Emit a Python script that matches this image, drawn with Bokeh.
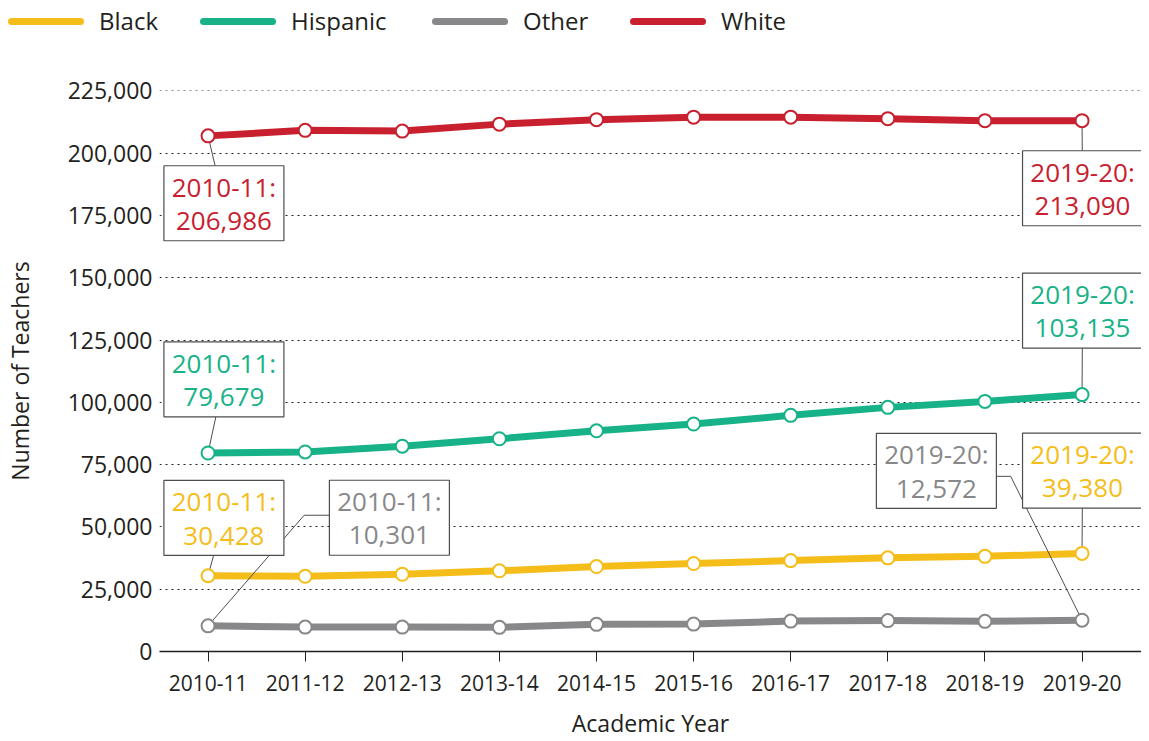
from bokeh.plotting import figure
from bokeh.models import Range1d, FixedTicker, NumeralTickFormatter, SingleIntervalTicker, Div
from bokeh.layouts import column
from bokeh.embed import file_html
from bokeh.resources import INLINE
from bokeh.core.properties import value

# ---------------- data ----------------
years = ["2010-11", "2011-12", "2012-13", "2013-14", "2014-15",
         "2015-16", "2016-17", "2017-18", "2018-19", "2019-20"]
black = [30428, 30200, 31000, 32400, 34100, 35300, 36500, 37600, 38200, 39380]
hispanic = [79679, 80100, 82400, 85400, 88600, 91300, 94800, 98000, 100400, 103135]
other = [10301, 9800, 9800, 9700, 10900, 11000, 12200, 12400, 12100, 12572]
white = [206986, 209200, 208900, 211700, 213500, 214500, 214500, 213900, 213100, 213090]

series_names = ["Black", "Hispanic", "Other", "White"]
series_values = [black, hispanic, other, white]
series_colors = ["#F5BD1A", "#17B287", "#88888B", "#C8202F"]

# ---------------- layout constants ----------------
W = 1141
LEG_H = 52
H = 741 - LEG_H
LEFT, RIGHT, TOP, BOTTOM = 150, 0, 38, 89
PX_PER_CAT = 98.0           # pixel width of one category
frame_h = H - TOP - BOTTOM
frame_w = W - LEFT - RIGHT
x0 = -49.0 / PX_PER_CAT
x1 = x0 + frame_w / PX_PER_CAT
y1 = 225200
PX_PER_UNIT = frame_h / y1  # pixels per teacher

SANS = "Open Sans"
DARK = "#231F20"
BOX = "#4D4D4D"

# ---------------- legend strip (HTML) ----------------
leg_line_x = [8, 200, 432, 630]
leg_line_len = 76
parts = []
for name, col, lx in zip(series_names, series_colors, leg_line_x):
    parts.append(
        f'<span style="position:absolute;left:{lx}px;top:18px;width:{leg_line_len}px;height:7px;'
        f'border-radius:4px;background:{col};"></span>'
        f'<span style="position:absolute;left:{lx + leg_line_len + 15}px;top:6px;line-height:30px;'
        f'white-space:nowrap;">{name}</span>'
    )
leg_html = (f'<div style="position:relative;width:{W}px;height:{LEG_H}px;font-family:\'Open Sans\';'
            f'font-size:24px;color:{DARK};">' + "".join(parts) + '</div>')
leg = Div(text=leg_html, width=W, height=LEG_H, margin=0)

# ---------------- main plot ----------------
p = figure(width=W, height=H, output_backend="svg", toolbar_location=None,
           x_range=Range1d(x0, x1), y_range=Range1d(0, y1),
           min_border_left=LEFT, min_border_right=RIGHT,
           min_border_top=TOP, min_border_bottom=BOTTOM, margin=0)
p.outline_line_color = None
p.background_fill_color = "white"

idx = list(range(len(years)))
p.xaxis.ticker = FixedTicker(ticks=idx)
p.xaxis.major_label_overrides = {i: y for i, y in enumerate(years)}
p.xaxis.axis_line_color = DARK
p.xaxis.axis_line_width = 1.5
p.xaxis.major_tick_line_color = DARK
p.xaxis.major_tick_line_width = 1
p.xaxis.major_tick_in = 0
p.xaxis.major_tick_out = 10
p.xaxis.minor_tick_line_color = None
p.xaxis.major_label_text_font = SANS
p.xaxis.major_label_text_font_size = "21px"
p.xaxis.major_label_text_color = DARK
p.xaxis.major_label_standoff = 13
p.xaxis.axis_label = "Academic Year"
p.xaxis.axis_label_text_font = SANS
p.xaxis.axis_label_text_font_size = "23px"
p.xaxis.axis_label_text_font_style = "normal"
p.xaxis.axis_label_text_color = DARK
p.xaxis.axis_label_standoff = 13

p.yaxis.ticker = SingleIntervalTicker(interval=25000)
p.yaxis.formatter = NumeralTickFormatter(format="0,0")
p.yaxis.axis_line_color = None
p.yaxis.major_tick_line_color = None
p.yaxis.minor_tick_line_color = None
p.yaxis.major_label_text_font = SANS
p.yaxis.major_label_text_font_size = "23px"
p.yaxis.major_label_text_color = DARK
p.yaxis.major_label_standoff = 1
p.yaxis.axis_label = "Number of Teachers"
p.yaxis.axis_label_text_font = SANS
p.yaxis.axis_label_text_font_size = "23px"
p.yaxis.axis_label_text_font_style = "normal"
p.yaxis.axis_label_text_color = DARK
p.yaxis.axis_label_standoff = 29

p.xgrid.grid_line_color = None
p.ygrid.grid_line_color = DARK
p.ygrid.grid_line_dash = "2 4"
p.ygrid.grid_line_width = 1

for vals, col in zip(series_values, series_colors):
    p.line(idx, vals, line_color=col, line_width=7, line_cap="round", line_join="round")

# ---------------- annotations ----------------
def dx(px):
    return px / PX_PER_CAT

def dy(px):
    return px / PX_PER_UNIT

# (series, point index, box centre offset x px, offset y px (down positive), elbow offset from box centre)
annots = [
    (3, 0, 16, 67.5, None),
    (3, 9, 0.5, 67.7, None),
    (1, 0, 16, -73.8, None),
    (1, 9, 0.5, -84.2, None),
    (0, 0, 16, -57.9, None),
    (0, 9, 0.5, -83.0, None),
    (2, 0, 183, -108.3, (-86, -2.5)),
    (2, 9, -147, -149.6, (75, 5.5)),
]

conn_xs, conn_ys = [], []
box_x, box_y, txt, txt_col = [], [], [], []
for s, i, ox, oy, elbow in annots:
    vals = series_values[s]
    px, py = i, vals[i]
    cx, cy = px + dx(ox), py - dy(oy)
    if elbow is None:
        conn_xs.append([px, cx])
        conn_ys.append([py, cy])
    else:
        ex, ey = cx + dx(elbow[0]), cy - dy(elbow[1])
        conn_xs.append([px, ex, cx])
        conn_ys.append([py, ey, ey])
    box_x.append(cx)
    box_y.append(cy)
    txt.append(f"{years[i]}:\n{vals[i]:,}")
    txt_col.append(series_colors[s])

p.multi_line(conn_xs, conn_ys, line_color=BOX, line_width=1)
p.rect(box_x, box_y, width=120, height=75, width_units="screen", height_units="screen",
       fill_color="white", line_color=BOX, line_width=1.2)

for vals, col in zip(series_values, series_colors):
    p.scatter(idx, vals, size=13, marker="circle", fill_color="white", line_color=col, line_width=2)

p.text(box_x, box_y, text=txt, text_color=txt_col, text_align="center", text_baseline="middle",
       text_font=value(SANS), text_font_size="26px", text_line_height=0.93)

layout = column(leg, p, spacing=0)
open("out.html", "w").write(file_html(layout, INLINE))
